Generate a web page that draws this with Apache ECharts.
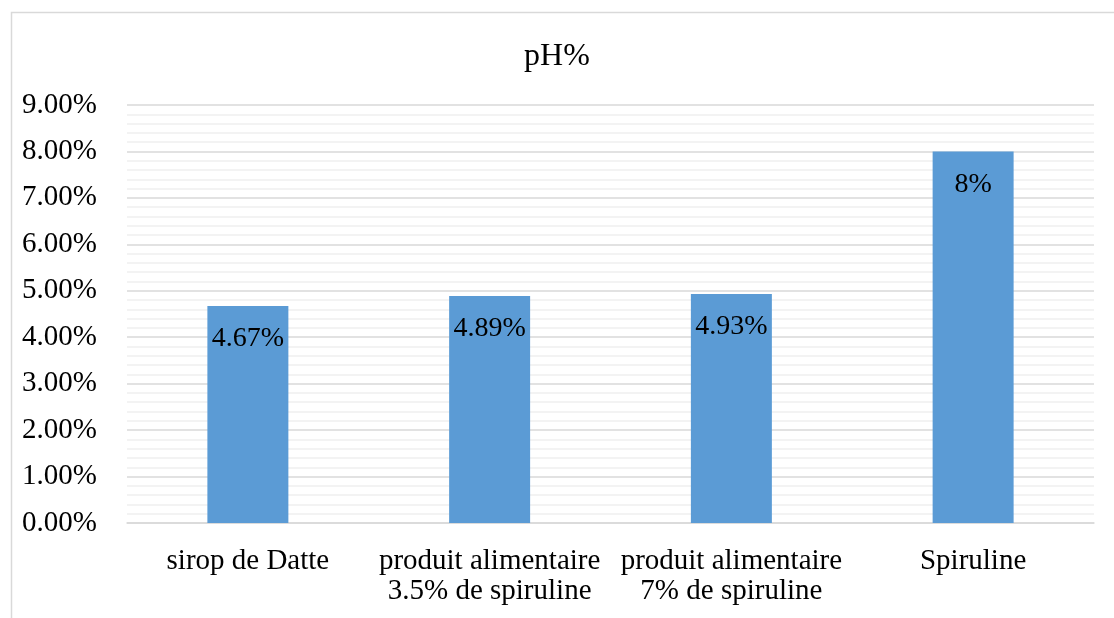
<!DOCTYPE html>
<html>
<head>
<meta charset="utf-8">
<script src="https://cdn.jsdelivr.net/npm/echarts@6/dist/echarts.min.js"></script>
<style>
  html, body { margin: 0; padding: 0; background: #fff; }
  #chart { width: 1114px; height: 618px; }
</style>
</head>
<body>
<div id="chart"></div>
<script>
// data
const categories = [
  "sirop de Datte",
  "produit alimentaire\n3.5% de spiruline",
  "produit alimentaire\n7% de spiruline",
  "Spiruline"
];
const phValues = [4.67, 4.89, 4.93, 8];
const chartTitle = "pH%";

const serif = "'Liberation Serif', 'Times New Roman', serif";

let myChart = echarts.init(document.getElementById("chart"));
const options = {
  backgroundColor: "#fff",
  textStyle: { fontFamily: serif },
  title: {
    text: chartTitle,
    left: "center",
    top: 36,
    textStyle: { fontFamily: serif, fontSize: 32, fontWeight: "normal", color: "#000" }
  },
  grid: { left: 127, right: 20, top: 105, bottom: 95 },
  xAxis: {
    type: "category",
    data: categories,
    axisLine: { lineStyle: { color: "#d9d9d9", width: 1.5 } },
    axisTick: { show: false },
    axisLabel: {
      color: "#000",
      fontSize: 29,
      fontFamily: serif,
      margin: 23,
      lineHeight: 30,
      interval: 0
    }
  },
  yAxis: {
    type: "value",
    min: 0,
    max: 9,
    interval: 1,
    axisLine: { show: false },
    axisTick: { show: false },
    axisLabel: {
      color: "#000",
      fontSize: 29,
      fontFamily: serif,
      margin: 30,
      formatter: (v) => v.toFixed(2) + "%"
    },
    splitLine: { lineStyle: { color: "#d9d9d9", width: 1.5 } },
    minorTick: { show: false, splitNumber: 5 },
    minorSplitLine: { show: true, lineStyle: { color: "#efefef", width: 1.5 } }
  },
  graphic: [
    {
      type: "rect",
      left: 9,
      top: 10,
      shape: { width: 1130, height: 640 },
      style: { fill: "none", stroke: "#d9d9d9", lineWidth: 1.5 },
      silent: true
    }
  ],
  series: [
    {
      type: "bar",
      data: phValues,
      barWidth: "33.5%",
      itemStyle: { color: "#5b9bd5" },
      label: {
        show: true,
        position: "insideTop",
        distance: 19,
        color: "#000",
        fontSize: 28,
        fontFamily: serif,
        formatter: (p) => p.value + "%"
      }
    }
  ]
};
myChart.setOption(options);
window.addEventListener("resize", function () {
  myChart.resize();
});
</script>
</body>
</html>
